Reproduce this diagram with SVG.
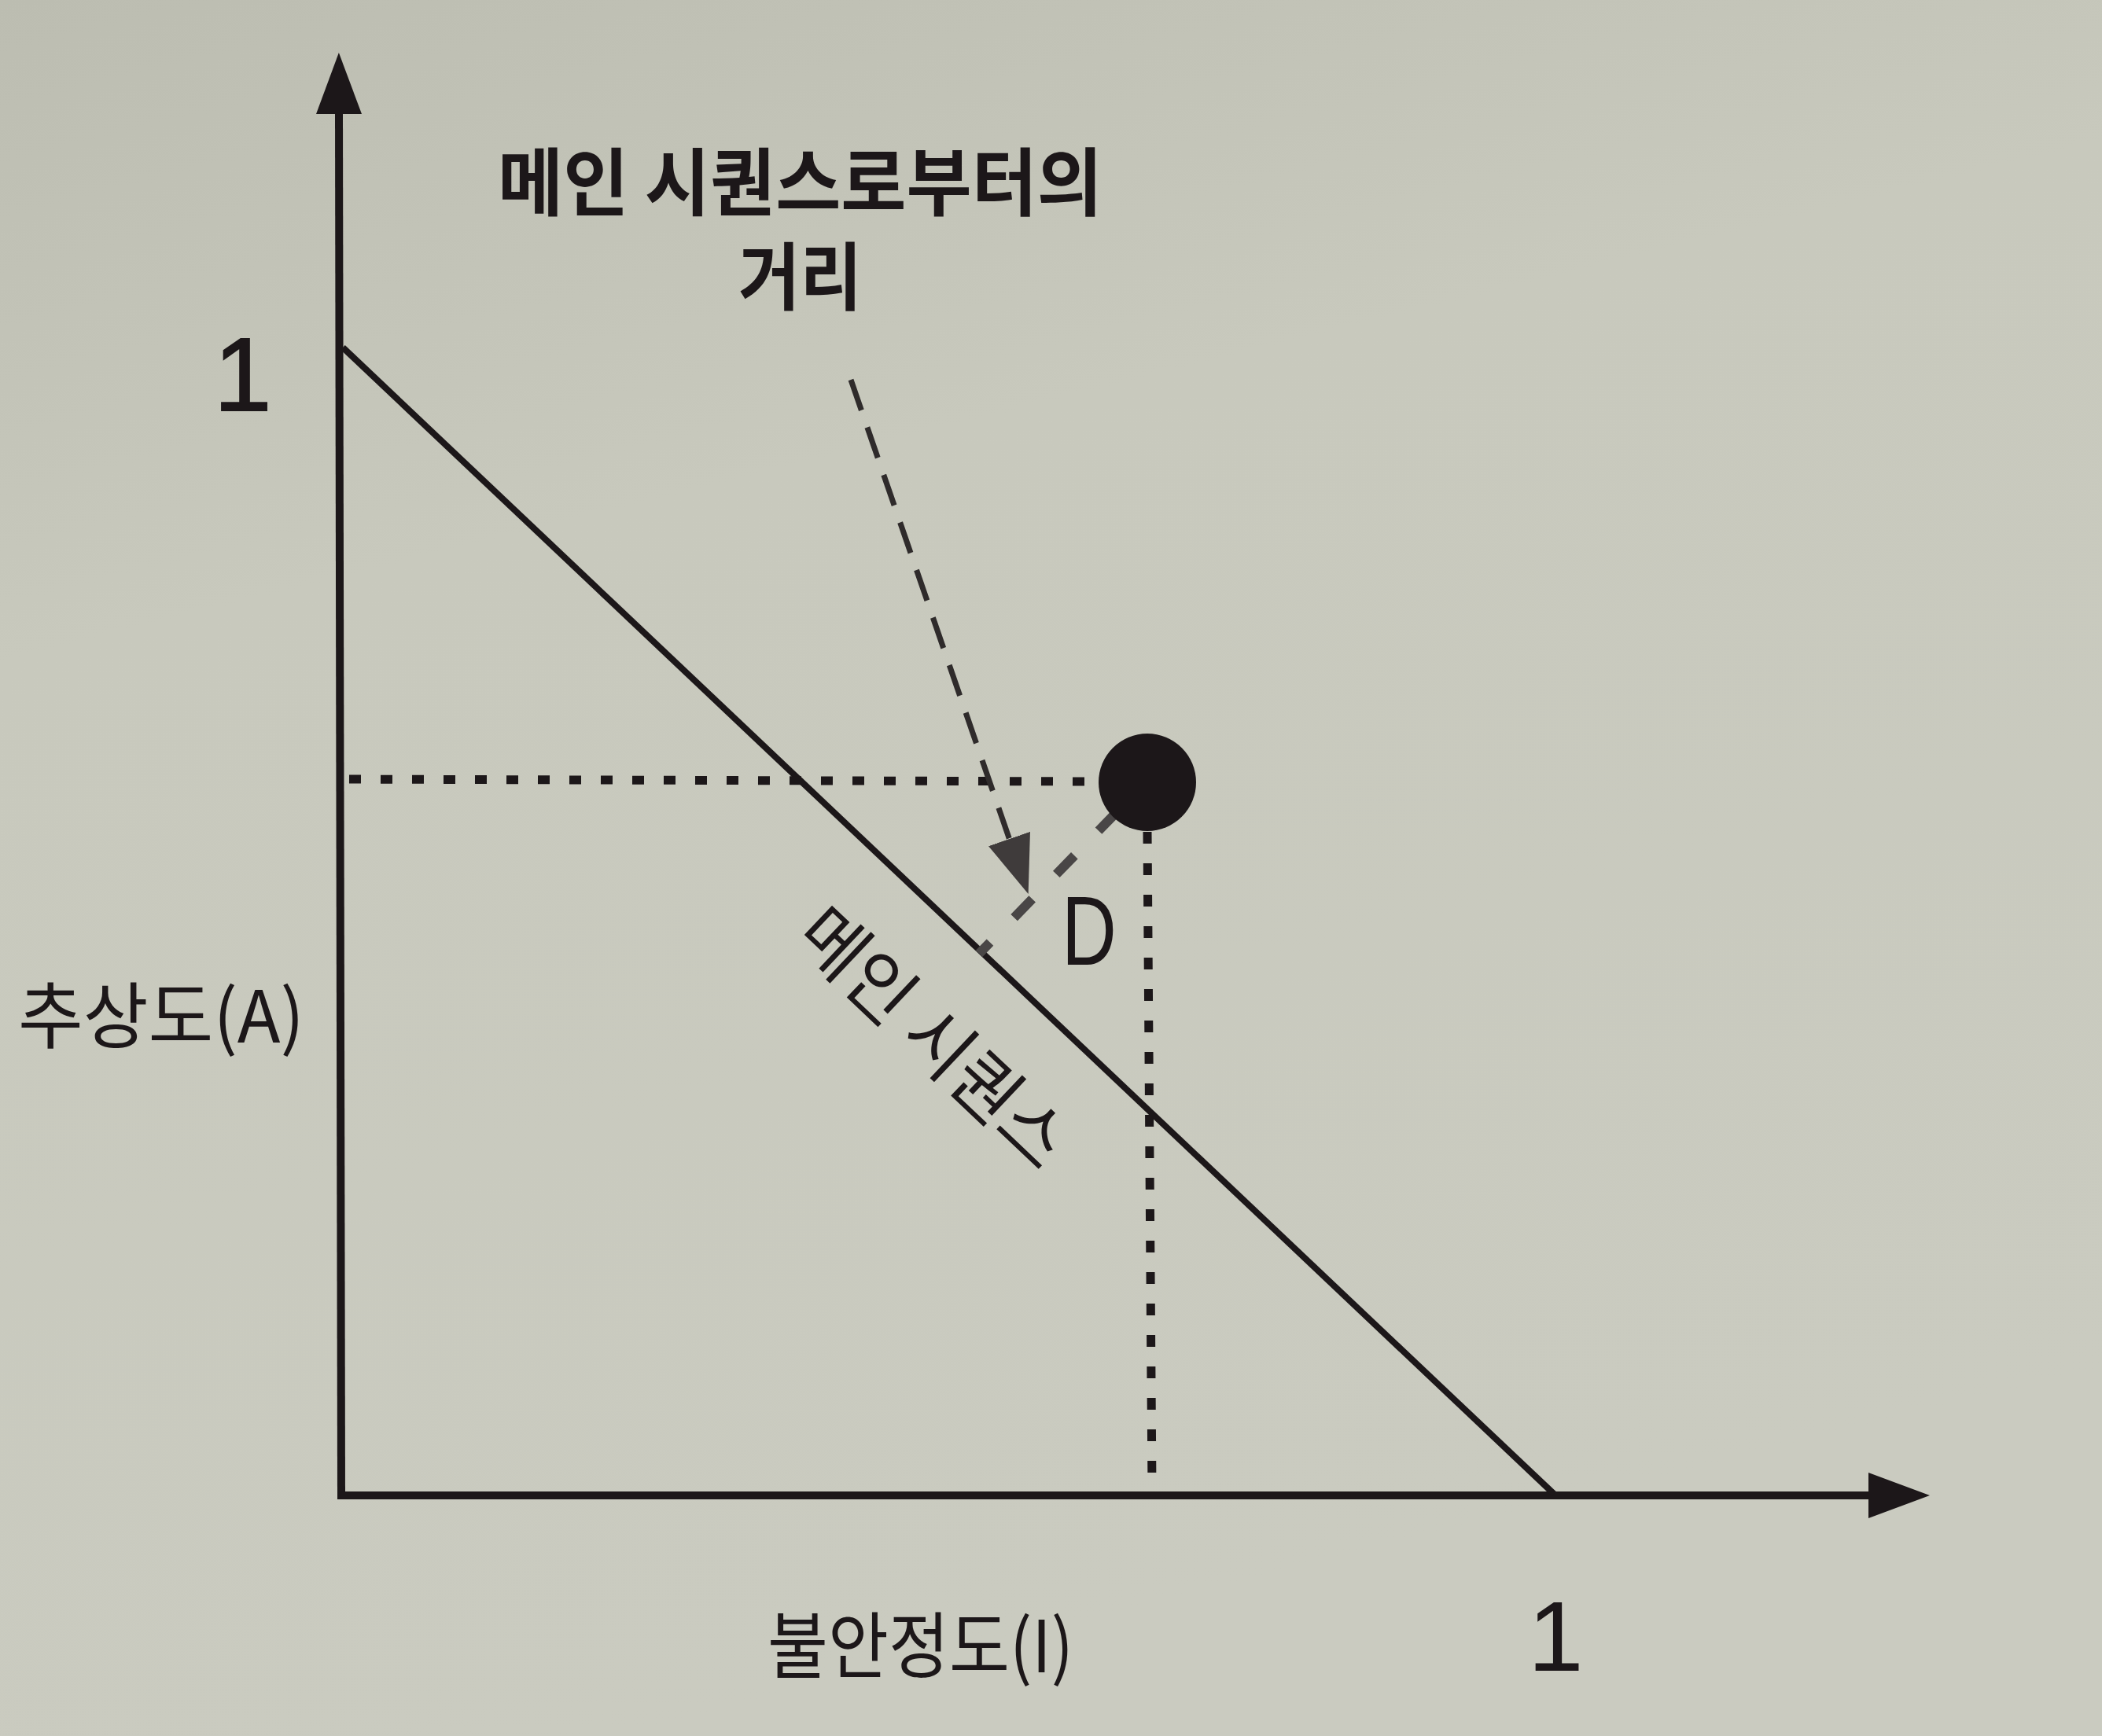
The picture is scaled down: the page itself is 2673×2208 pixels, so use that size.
<svg xmlns="http://www.w3.org/2000/svg" width="2673" height="2208" viewBox="0 0 2673 2208">
  <defs>
    <linearGradient id="paper" x1="0" y1="0" x2="0.3" y2="1">
      <stop offset="0" stop-color="#bcbdb1"/>
      <stop offset="0.35" stop-color="#c8c9bd"/>
      <stop offset="1" stop-color="#cacbc0"/>
    </linearGradient>
    <marker id="head-black" markerUnits="userSpaceOnUse" markerWidth="80" markerHeight="60" viewBox="0 0 80 60" refX="0" refY="29" orient="auto">
      <path d="M0,0 L78,29 L0,58 z" fill="#1c1719"/>
    </marker>
    <marker id="head-grey" markerUnits="userSpaceOnUse" markerWidth="80" markerHeight="60" viewBox="0 0 80 60" refX="0" refY="28" orient="auto">
      <path d="M0,0 L74,28 L0,56 z" fill="#3f3b3b"/>
    </marker>
    <style>
      .axis { stroke: #1c1719; stroke-width: 10; fill: none; }
      .main { stroke: #1c1719; stroke-width: 8; fill: none; }
      .dotted { stroke: #1c1719; stroke-width: 11; stroke-dasharray: 15 25; fill: none; }
      .dashed { stroke: #2f2b2b; stroke-width: 7; stroke-dasharray: 41 23; fill: none; }
      .dline { stroke: #494646; stroke-width: 12; stroke-dasharray: 33 44; fill: none; }
      .ko { font-family: 'Noto Sans CJK KR', 'Noto Sans', sans-serif; font-size: 92px; fill: #1c1719; }
      .bold { font-weight: 700; font-size: 94px; }
      .num { font-family: 'Liberation Sans', Arial, sans-serif; fill: #1c1719; }
    </style>
  </defs>

  <rect x="0" y="0" width="2673" height="2208" fill="url(#paper)"/>

  <g id="connectors">
    <line id="y-axis" class="axis" x1="434" y1="1902" x2="431" y2="145" marker-end="url(#head-black)"/>
    <line id="x-axis" class="axis" x1="429" y1="1902" x2="2376" y2="1902" marker-end="url(#head-black)"/>
    <line id="main-sequence" class="main" x1="436" y1="442" x2="1976" y2="1900"/>
    <line id="dotted-h" class="dotted" x1="444" y1="991" x2="1400" y2="994"/>
    <line id="dotted-v" class="dotted" x1="1459" y1="1058" x2="1465" y2="1898"/>
    <line id="distance-arrow" class="dashed" x1="1082" y1="483" x2="1283.5" y2="1067" marker-end="url(#head-grey)"/>
    <line id="distance-d" class="dline" x1="1420" y1="1033" x2="1245" y2="1213"/>
  </g>

  <g id="point">
    <circle cx="1459" cy="995" r="62" fill="#1c1719"/>
  </g>

  <g id="label-title">
    <text class="ko bold"><tspan x="633" y="267" textLength="769" lengthAdjust="spacingAndGlyphs">메인 시퀀스로부터의</tspan><tspan x="939" y="387" textLength="157" lengthAdjust="spacingAndGlyphs">거리</tspan></text>
  </g>

  <g id="label-main-sequence">
    <text class="ko" transform="translate(1270,1232) rotate(43.44)" x="-216.5" y="154" textLength="433" lengthAdjust="spacingAndGlyphs">메인 시퀀스</text>
  </g>

  <g id="label-abstractness">
    <text class="ko" x="23" y="1326" textLength="364" lengthAdjust="spacingAndGlyphs">추상도(A)</text>
  </g>

  <g id="label-instability">
    <text class="ko" x="976" y="2127" textLength="389" lengthAdjust="spacingAndGlyphs">불안정도(I)</text>
  </g>

  <g id="label-one-y">
    <text class="num" x="272" y="522" font-size="132" stroke="#1c1719" stroke-width="2">1</text>
  </g>

  <g id="label-one-x">
    <text class="num" x="1943" y="2125" font-size="127">1</text>
  </g>

  <g id="label-d">
    <text class="num" transform="translate(1350,1227) scale(0.78,1)" x="0" y="0" font-size="124" fill="#4a4747">D</text>
  </g>
</svg>
